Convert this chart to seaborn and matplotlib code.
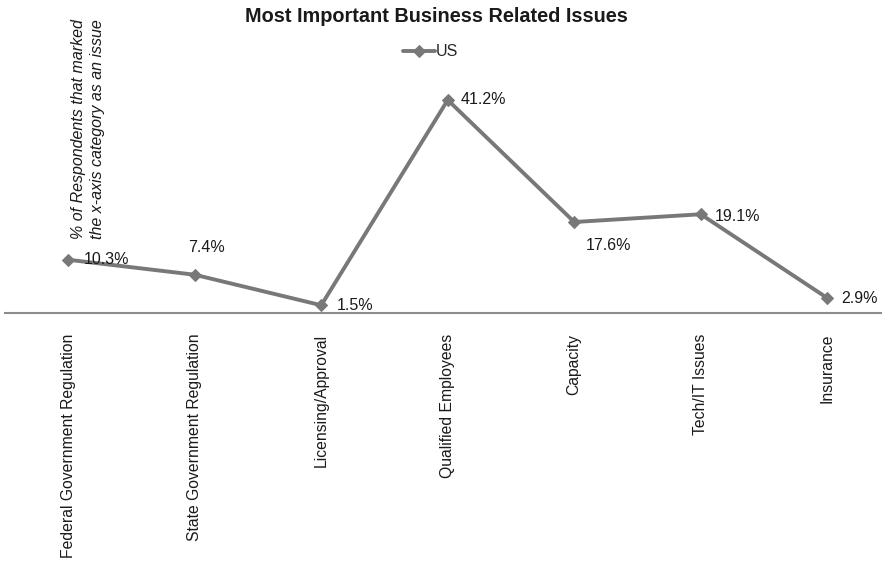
import matplotlib
matplotlib.use("Agg")
import matplotlib.pyplot as plt
import seaborn as sns
import pandas as pd

categories = ["Federal Government Regulation", "State Government Regulation",
              "Licensing/Approval", "Qualified Employees", "Capacity",
              "Tech/IT Issues", "Insurance"]
us_values = [10.3, 7.4, 1.5, 41.2, 17.6, 19.1, 2.9]
value_labels = ["10.3%", "7.4%", "1.5%", "41.2%", "17.6%", "19.1%", "2.9%"]

sns.set_theme(style="white")
plt.rcParams['font.family'] = ['Liberation Sans', 'DejaVu Sans']

df = pd.DataFrame({"Category": categories, "Value": us_values, "Series": "US"})

fig = plt.figure(figsize=(8.82, 5.63), dpi=100)
ax = fig.add_axes([5/882, 250/563, 877/882, 273/563])

line_color = "#787878"
sns.lineplot(data=df, x="Category", y="Value", hue="Series", palette=[line_color],
             marker="D", markersize=6, markeredgecolor=line_color, linewidth=2.8,
             sort=False, ax=ax, clip_on=False)

ax.set_xlim(-0.5, -0.5 + 877/126.5)
ax.set_ylim(0, 273/5.17)

for s in ["top", "right", "left"]:
    ax.spines[s].set_visible(False)
ax.spines["bottom"].set_color("#8c8c8c")
ax.spines["bottom"].set_linewidth(1.5)
ax.set_yticks([])
ax.set_xlabel("")
ax.set_ylabel("")
ax.tick_params(axis="x", length=0, pad=15)
ax.set_xticks(range(len(categories)))
ax.set_xticklabels(categories, rotation=90, va="top", ha="center",
                   fontsize=11.3, color="#1a1a1a")

# data labels: offsets in points
offsets = [(11.5, 0.5, "left"), (8.5, 19.5, "center"),
           (11, 0, "left"), (9.5, 0, "left"),
           (8.6, -17, "left"), (10, -1.5, "left"),
           (10, 0, "left")]
for i, (v, lab) in enumerate(zip(us_values, value_labels)):
    dx, dy, ha = offsets[i]
    ax.annotate(lab, (i, v), xytext=(dx, dy), textcoords="offset points",
                ha=ha, va="center", fontsize=11.5, color="#1a1a1a")

leg = ax.legend(loc="center", bbox_to_anchor=(431/882, 1 - 52/563),
                bbox_transform=fig.transFigure, frameon=False, fontsize=11.5,
                handlelength=2.0, handletextpad=0.05)

fig.text(436/882, 1 - 17/563, "Most Important Business Related Issues",
         ha="center", va="center", fontsize=14.3, fontweight="bold", color="#1a1a1a")

fig.text(88/882, 1 - 19/563,
         "% of Respondents that marked\nthe x-axis category as an issue",
         rotation=90, ha="center", va="top", fontsize=11.5, style="italic",
         color="#1a1a1a", linespacing=1.28)

fig.savefig("out.png", dpi=100, facecolor="white")
